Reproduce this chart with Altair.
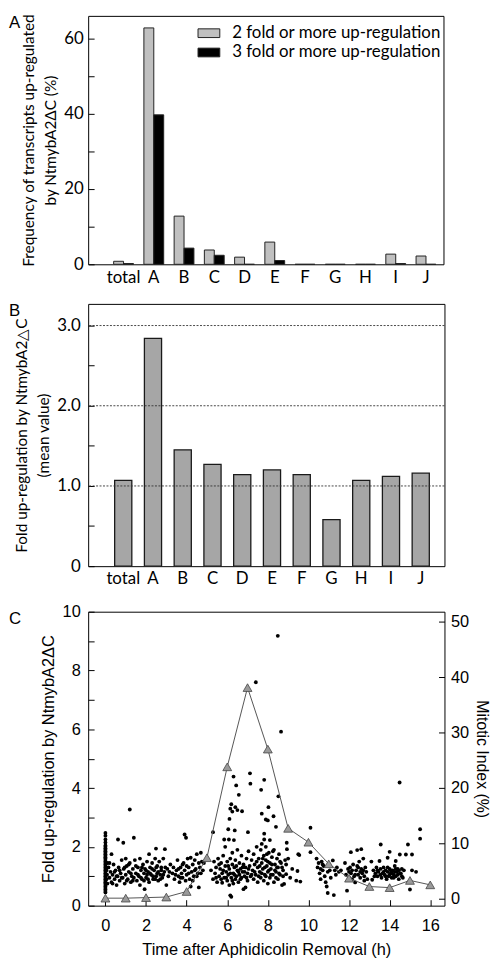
import altair as alt
import pandas as pd

# ---------------- Panel A data ----------------
categories = ["total", "A", "B", "C", "D", "E", "F", "G", "H", "I", "J"]
series_names = ["2 fold or more up-regulation", "3 fold or more up-regulation"]
fold2_pct = [0.8, 62.8, 12.8, 3.8, 1.9, 5.9, 0.0, 0.0, 0.0, 2.7, 2.2]
fold3_pct = [0.2, 39.7, 4.3, 2.4, 0.0, 1.0, 0.0, 0.0, 0.0, 0.2, 0.0]

# ---------------- Panel B data ----------------
mean_fold = [1.07, 2.84, 1.45, 1.27, 1.14, 1.20, 1.14, 0.58, 1.07, 1.12, 1.16]
grid_levels = [1.0, 2.0, 3.0]

# ---------------- Panel C data ----------------
mitotic_hours = [0, 1, 2, 3, 4, 5, 6, 7, 8, 9, 10, 11, 12, 13, 14, 15, 16]
mitotic_index = [0.1, 0.1, 0.2, 0.3, 1.3, 7.4, 23.8, 38.1, 27.0, 12.7, 10.2, 6.3, 3.7, 2.2, 2.0, 3.3, 2.5]

scatter_points = [
    # column at time 0
    (0, 0.45), (0, 0.5), (0, 0.55), (0, 0.6), (0, 0.65), (0, 0.7), (0, 0.75), (0, 0.8),
    (0, 0.85), (0, 0.9), (0, 0.95), (0, 1.0), (0, 1.05), (0, 1.1), (0, 1.15), (0, 1.2),
    (0, 1.25), (0, 1.3), (0, 1.35), (0, 1.4), (0, 1.45), (0, 1.5), (0, 1.55), (0, 1.6),
    (0, 1.65), (0, 1.7), (0, 1.75), (0, 1.8), (0, 1.85), (0, 1.9), (0, 1.95), (0, 2.0),
    (0, 2.05), (0, 2.15), (0, 2.25), (0, 2.38), (0, 2.47),
    (0.05, 0.9), (0.05, 1.2), (0.08, 1.05), (0.1, 0.75), (0.1, 1.45),
    # 0 - 5 h band
    (0.15, 1.3), (0.2, 0.95), (0.25, 1.15), (0.3, 1.75), (0.3, 0.8), (0.35, 1.05), (0.4, 1.4),
    (0.45, 0.9), (0.5, 1.2), (0.55, 0.7), (0.6, 1.0), (0.62, 2.25), (0.65, 1.3), (0.7, 0.85),
    (0.75, 1.1), (0.8, 1.55), (0.85, 0.95), (0.88, 2.14), (0.9, 1.25), (0.95, 0.75), (1.0, 1.05),
    (1.0, 1.6), (1.05, 1.35), (1.1, 0.9), (1.15, 1.15), (1.2, 3.27), (1.2, 1.45), (1.25, 0.8),
    (1.3, 1.0), (1.35, 1.25), (1.4, 2.31), (1.4, 0.95), (1.45, 1.55), (1.5, 1.1), (1.55, 0.85),
    (1.6, 1.3), (1.65, 1.0), (1.7, 1.6), (1.7, 0.7), (1.75, 1.2), (1.8, 0.9), (1.85, 1.4),
    (1.9, 1.1), (1.93, 0.56), (1.95, 1.25), (2.0, 0.95), (2.05, 1.5), (2.1, 1.15), (2.15, 1.75),
    (2.15, 0.8), (2.2, 1.3), (2.25, 1.05), (2.3, 1.45), (2.35, 0.9), (2.4, 1.2), (2.45, 1.6),
    (2.49, 1.94), (2.5, 1.0), (2.55, 1.35), (2.6, 0.85), (2.6, 1.15), (2.65, 1.5), (2.7, 1.05),
    (2.75, 1.3), (2.8, 0.95), (2.85, 1.6), (2.9, 1.15), (2.93, 1.92), (3.0, 0.7), (3.05, 1.25),
    (3.1, 1.0), (3.2, 1.4), (3.3, 1.1), (3.4, 0.9), (3.5, 1.2), (3.55, 1.55), (3.6, 1.0),
    (3.65, 0.8), (3.7, 1.3), (3.75, 1.1), (3.8, 0.95), (3.85, 1.45), (3.9, 2.42), (3.9, 1.2),
    (3.95, 0.85), (3.97, 2.31), (4.0, 1.05), (4.05, 1.6), (4.1, 1.3), (4.15, 0.9), (4.2, 1.63),
    (4.2, 0.65), (4.25, 1.15), (4.3, 1.4), (4.35, 1.0), (4.4, 1.55), (4.45, 1.25), (4.5, 1.75),
    (4.55, 1.1), (4.6, 0.62), (4.6, 1.45), (4.65, 1.3), (4.7, 1.8), (4.75, 1.5), (4.8, 1.2),
    (0.2, 1.45), (0.35, 0.75), (0.45, 1.15), (0.55, 1.0), (0.7, 1.2), (0.8, 0.95), (0.95, 1.3),
    (1.05, 0.85), (1.15, 1.4), (1.25, 1.1), (1.35, 0.85), (1.5, 1.35), (1.6, 1.05), (1.75, 0.95),
    (1.8, 1.3), (1.9, 0.85), (2.0, 1.2), (2.05, 1.05), (2.1, 0.9), (2.2, 1.1), (2.3, 1.25),
    (2.35, 1.0), (2.45, 0.9), (2.5, 1.3), (2.55, 1.1), (2.7, 0.9), (2.75, 1.2), (2.85, 1.05),
    (2.95, 1.3), (3.15, 1.15), (3.35, 1.3), (3.45, 1.05), (3.6, 1.25), (3.7, 0.95), (3.8, 1.4),
    (4.0, 1.35), (4.1, 1.1), (4.3, 0.85), (4.4, 1.2), (4.5, 1.0), (4.7, 1.1), (4.85, 1.45),
    # 5 - 10 h peak region, upper points
    (5.3, 2.5), (5.85, 2.25), (6.05, 2.6), (6.08, 2.25), (6.11, 2.95), (6.15, 3.3), (6.2, 3.45),
    (6.25, 3.2), (6.31, 4.39), (6.33, 2.23), (6.37, 2.56), (6.4, 3.35), (6.44, 4.09), (6.5, 3.25),
    (6.57, 3.77), (6.73, 3.21), (7.02, 2.5), (7.12, 4.5), (7.14, 4.15), (7.41, 7.6), (7.67, 3.94),
    (7.7, 3.13), (7.82, 4.28), (7.82, 2.45), (7.82, 2.25), (7.9, 2.93), (8.0, 2.9), (8.03, 3.35),
    (8.1, 2.23), (8.28, 3.04), (8.4, 2.68), (8.49, 9.18), (8.52, 3.72), (8.65, 5.92), (8.94, 1.92),
    (8.93, 2.14), (10.1, 2.65),
    # 5 - 10 h dense cloud
    (5.2, 1.2), (5.3, 0.9), (5.35, 1.5), (5.4, 1.1), (5.45, 1.3), (5.5, 0.8), (5.55, 1.6),
    (5.6, 1.0), (5.65, 1.25), (5.7, 1.45), (5.75, 0.78), (5.75, 1.1), (5.8, 1.7), (5.85, 0.95),
    (5.9, 1.35), (5.9, 2.0), (5.95, 1.15), (6.0, 0.85), (6.0, 1.5), (6.05, 1.05), (6.1, 1.25),
    (6.1, 0.7), (6.15, 0.35), (6.15, 1.6), (6.2, 0.95), (6.2, 0.3), (6.25, 1.4), (6.25, 1.8),
    (6.3, 1.1), (6.3, 0.75), (6.35, 1.3), (6.4, 0.9), (6.4, 1.55), (6.45, 1.0), (6.5, 1.2),
    (6.5, 1.9), (6.55, 0.8), (6.6, 1.45), (6.6, 1.05), (6.65, 1.25), (6.7, 0.95), (6.7, 1.7),
    (6.75, 1.15), (6.8, 0.56), (6.8, 1.4), (6.85, 1.0), (6.9, 0.62), (6.9, 1.3), (6.95, 1.6),
    (7.0, 1.1), (7.0, 0.85), (7.05, 1.85), (7.1, 1.35), (7.15, 1.0), (7.2, 1.55), (7.25, 1.2),
    (7.3, 0.9), (7.3, 1.75), (7.35, 1.4), (7.4, 1.05), (7.45, 2.0), (7.5, 1.3), (7.5, 0.8),
    (7.55, 1.6), (7.6, 1.15), (7.65, 1.9), (7.65, 0.95), (7.7, 1.45), (7.7, 2.1), (7.75, 1.25),
    (7.8, 1.7), (7.8, 0.85), (7.85, 1.05), (7.9, 1.55), (7.9, 2.0), (7.95, 1.35), (8.0, 0.75),
    (8.0, 1.15), (8.05, 1.8), (8.1, 1.45), (8.1, 0.95), (8.15, 1.25), (8.2, 1.65), (8.25, 1.05),
    (8.3, 1.9), (8.3, 0.8), (8.35, 1.4), (8.4, 1.15), (8.45, 1.6), (8.5, 0.9), (8.5, 1.3),
    (8.55, 1.75), (8.6, 1.05), (8.65, 1.45), (8.7, 0.7), (8.75, 1.2), (8.8, 0.74), (8.85, 1.55),
    (8.9, 1.4), (8.9, 1.07), (9.0, 1.6), (9.1, 0.95), (9.2, 1.25), (9.4, 0.85), (9.46, 1.18),
    (9.5, 1.75), (9.55, 1.72), (9.6, 0.82),
    (5.45, 0.95), (5.6, 1.4), (5.7, 0.9), (5.8, 1.2), (5.95, 0.95), (6.05, 1.35), (6.15, 1.1),
    (6.25, 0.85), (6.35, 1.05), (6.45, 1.35), (6.55, 1.15), (6.65, 0.9), (6.75, 1.3), (6.85, 1.15),
    (6.95, 0.95), (7.05, 1.25), (7.2, 1.05), (7.35, 1.15), (7.45, 1.5), (7.55, 1.0), (7.6, 1.35),
    (7.7, 1.1), (7.75, 1.6), (7.85, 1.3), (7.9, 1.0), (7.95, 1.75), (8.0, 1.5), (8.05, 1.2),
    (8.15, 1.05), (8.2, 1.4), (8.25, 1.85), (8.35, 1.2), (8.4, 0.95), (8.45, 1.3), (8.55, 1.1),
    (8.6, 1.5), (8.7, 1.3), (8.75, 1.0),
    # 10 - 16 h
    (10.1, 1.82), (10.4, 1.6), (10.45, 1.3), (10.5, 1.45), (10.55, 1.1), (10.6, 0.9), (10.65, 1.5),
    (10.7, 1.2), (10.75, 1.35), (10.8, 1.0), (10.85, 0.8), (10.9, 0.65), (10.95, 0.43), (10.95, 1.15),
    (11.0, 1.4), (11.1, 0.95), (11.2, 1.54), (11.25, 0.36), (11.3, 1.2), (11.35, 1.05), (11.5, 1.15),
    (11.6, 1.2), (11.8, 1.45), (11.85, 1.05), (11.9, 0.51), (11.95, 1.25), (12.0, 0.95), (12.05, 1.3),
    (12.09, 1.82), (12.1, 1.1), (12.15, 0.9), (12.2, 1.4), (12.25, 1.0), (12.3, 0.79), (12.35, 1.2),
    (12.4, 1.89), (12.4, 1.35), (12.45, 1.05), (12.5, 1.5), (12.55, 0.95), (12.6, 1.25), (12.6, 1.92),
    (12.65, 1.1), (12.7, 1.6), (12.75, 1.0), (12.8, 1.3), (12.85, 1.15), (12.9, 0.9), (13.1, 1.5),
    (13.14, 0.88), (13.2, 1.2), (13.3, 1.1), (13.35, 1.3), (13.4, 1.0), (13.45, 1.15), (13.5, 1.52),
    (13.55, 1.25), (13.56, 2.08), (13.6, 0.95), (13.65, 1.1), (13.7, 1.3), (13.75, 1.05), (13.8, 1.2),
    (13.85, 0.9), (13.9, 1.63), (13.9, 1.15), (13.95, 1.0), (14.0, 1.83), (14.0, 1.25), (14.05, 1.1),
    (14.1, 0.95), (14.15, 1.2), (14.2, 1.05), (14.25, 1.35), (14.3, 1.52), (14.3, 1.0), (14.35, 1.15),
    (14.4, 1.25), (14.45, 0.9), (14.49, 4.19), (14.5, 1.74), (14.5, 1.1), (14.6, 1.0), (14.7, 1.2),
    (14.8, 1.74), (14.9, 2.08), (15.0, 0.55), (15.1, 1.74), (15.1, 1.2), (15.3, 1.15), (15.5, 2.6),
    (15.5, 2.28),
    (12.0, 1.15), (12.15, 1.2), (12.3, 1.05), (12.45, 1.3), (12.55, 1.15), (12.7, 1.2), (12.75, 0.85),
    (13.25, 1.0), (13.4, 1.2), (13.55, 1.05), (13.7, 1.15), (13.8, 1.0), (13.9, 1.3), (14.0, 1.05),
    (14.05, 1.2), (14.1, 1.1), (14.2, 0.95), (14.25, 1.15), (14.3, 1.25), (14.4, 1.05), (14.45, 1.2),
    (14.55, 1.1), (14.6, 1.25), (14.65, 0.95), (10.6, 1.25), (10.7, 1.4), (11.05, 1.2), (11.4, 1.3),
]
scatter_time = [p[0] for p in scatter_points]
scatter_fold = [p[1] for p in scatter_points]

AB_FONT = "Lato"
C_FONT = "Liberation Sans"
INWARD = {"expr": "-6"}


def letter(txt):
    return alt.Chart(pd.DataFrame({"t": [txt]})).mark_text(
        align="left", baseline="top", font=C_FONT, fontSize=17, color="black"
    ).encode(text="t:N", x=alt.value(-80), y=alt.value(-1))


# ---------------- Panel A ----------------
dfA = pd.DataFrame({
    "category": categories * 2,
    "series": [series_names[0]] * len(categories) + [series_names[1]] * len(categories),
    "pct": fold2_pct + fold3_pct,
})
barsA = alt.Chart(dfA).mark_bar(stroke="#222222", strokeWidth=1).encode(
    x=alt.X("category:N", sort=categories,
            scale=alt.Scale(paddingInner=0.345, paddingOuter=0.547, align=0.77),
            axis=alt.Axis(title=None, labelAngle=0, ticks=False, labelFont=AB_FONT,
                          labelFontSize=17, labelPadding=5)),
    xOffset=alt.XOffset("series:N", sort=series_names),
    y=alt.Y("pct:Q", scale=alt.Scale(domain=[0, 66], nice=False),
            axis=alt.Axis(values=[0, 10, 20, 30, 40, 50, 60],
                          labelExpr="datum.value % 20 == 0 ? datum.label : ''",
                          tickSize=INWARD, labelPadding=11, labelFont=AB_FONT, labelFontSize=17,
                          title=["Frequency of transcripts up-regulated", "by NtmybA2\u0394C (%)"],
                          titleFont=AB_FONT, titleFontSize=15.5, titleLineHeight=23, titlePadding=5,
                          titleColor="black")),
    color=alt.Color("series:N",
                    scale=alt.Scale(domain=series_names, range=["#c0c0c0", "#000000"]),
                    legend=alt.Legend(title=None, orient="none", legendX=113.5, legendY=9,
                                      direction="vertical", symbolType="M-2,-0.8H2V0.8H-2Z",
                                      symbolSize=121, symbolStrokeColor="#222222",
                                      symbolStrokeWidth=1, symbolOpacity=1,
                                      labelFont=AB_FONT, labelFontSize=17, labelColor="black",
                                      labelLimit=0, labelOffset=15, rowPadding=1.5, padding=0)),
)
panelA = alt.layer(barsA, letter("A")).properties(width=359, height=251)

# ---------------- Panel B ----------------
dfB = pd.DataFrame({"category": categories, "mean": mean_fold})
xB = alt.X("category:N", sort=categories,
           scale=alt.Scale(paddingInner=0.423, paddingOuter=0.7, align=0.636),
           axis=alt.Axis(title=None, labelAngle=0, ticks=False, labelFont=AB_FONT,
                         labelFontSize=17, labelPadding=5))
barsB = alt.Chart(dfB).mark_bar(color="#a6a6a6", stroke="#1a1a1a", strokeWidth=1.3).encode(
    x=xB,
    y=alt.Y("mean:Q", scale=alt.Scale(domain=[0, 3.27], nice=False),
            axis=alt.Axis(values=[0, 0.5, 1.0, 1.5, 2.0, 2.5, 3.0],
                          labelExpr="datum.value == 0 ? '0' : (datum.value % 1 == 0 ? format(datum.value, '.1f') : '')",
                          tickSize=INWARD, labelPadding=14, labelFont=AB_FONT, labelFontSize=17,
                          title=["Fold up-regulation by NtmybA2\u25b3C", "(mean value)"],
                          titleFont=AB_FONT, titleFontSize=15.5, titleLineHeight=23, titlePadding=5,
                          titleColor="black")),
)
dfG = pd.DataFrame({"level": grid_levels})
gridB = alt.Chart(dfG).mark_rule(color="#333333", strokeWidth=0.9, strokeDash=[2, 1.5]).encode(
    y=alt.Y("level:Q")
)
panelB = alt.layer(barsB, gridB, letter("B")).properties(width=360, height=265)

# ---------------- Panel C ----------------
dfS = pd.DataFrame({"time": scatter_time, "fold": scatter_fold})
dfM = pd.DataFrame({"time": mitotic_hours, "mi": mitotic_index})

xC = alt.X("time:Q", scale=alt.Scale(domain=[-0.85, 16.7], nice=False),
           axis=alt.Axis(values=list(range(0, 17, 2)), tickSize=INWARD, labelPadding=18,
                         labelFont=C_FONT, labelFontSize=16.5,
                         title="Time after Aphidicolin Removal (h)", titleFont=C_FONT,
                         titleFontSize=16.5, titlePadding=8, titleColor="black"))
dots = alt.Chart(dfS).mark_circle(color="black", size=15, opacity=1).encode(
    x=xC,
    y=alt.Y("fold:Q", scale=alt.Scale(domain=[0, 10], nice=False),
            axis=alt.Axis(values=list(range(0, 11)),
                          labelExpr="datum.value % 2 == 0 ? datum.label : ''",
                          tickSize=INWARD, labelPadding=14, labelFont=C_FONT, labelFontSize=16.5,
                          title="Fold up-regulation by NtmybA2\u0394C", titleFont=C_FONT,
                          titleFontSize=16.5, titlePadding=6, titleColor="black")),
)
yMI = alt.Y("mi:Q", scale=alt.Scale(domain=[-1.25, 51.8], nice=False),
            axis=alt.Axis(orient="right", values=[0, 10, 20, 30, 40, 50], tickSize=INWARD,
                          labelPadding=12, labelFont=C_FONT, labelFontSize=16.5,
                          title="Mitotic Index (%)", titleFont=C_FONT, titleFontSize=16,
                          titlePadding=5, titleColor="black"))
miLine = alt.Chart(dfM).mark_line(color="#555555", strokeWidth=1).encode(
    x=alt.X("time:Q"), y=yMI)
miTri = alt.Chart(dfM).mark_point(shape="triangle-up", filled=True, fill="#9a9a9a",
                                  stroke="#444444", strokeWidth=0.8, size=80, opacity=1,
                                  fillOpacity=1).encode(x=alt.X("time:Q"), y=yMI)
panelC = alt.layer(
    dots, alt.layer(miLine, miTri), letter("C")
).resolve_scale(y="independent").properties(width=360, height=297)

chart = alt.vconcat(panelA, panelB, panelC, spacing=15).properties(padding=0).configure_view(
    stroke="black", strokeWidth=1
).configure_axis(
    domain=False, grid=False, tickColor="black", labelColor="black", titleColor="black",
    titleFontWeight="normal"
)

chart.save("out.html", embed_options={"renderer": "svg", "actions": False})
